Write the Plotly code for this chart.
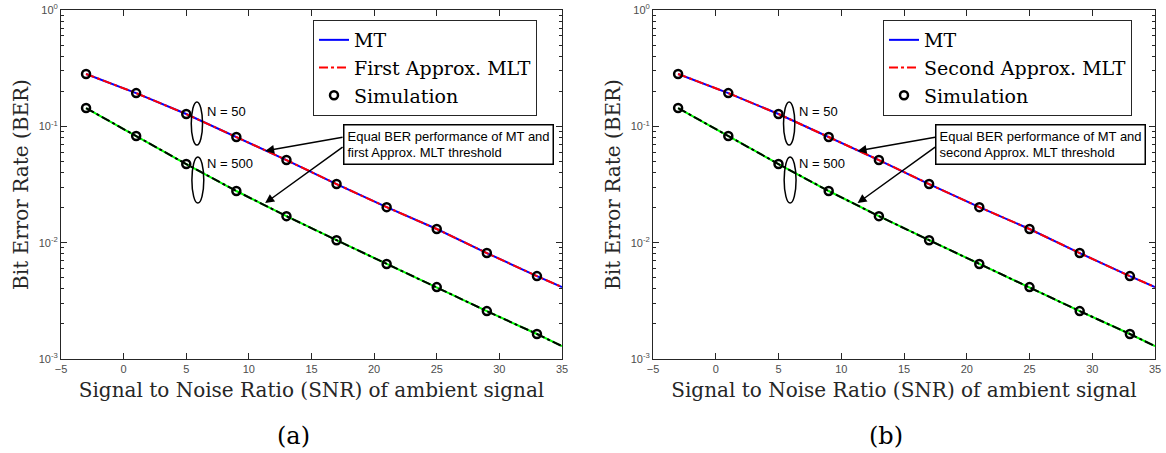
import plotly.graph_objects as go

# ---------------- data ----------------
snr = [-3, 1, 5, 9, 13, 17, 21, 25, 29, 33]
snr_line = [-3, 1, 5, 9, 13, 17, 21, 25, 29, 33, 35]
ber_n50_line = [0.282, 0.193, 0.1276, 0.0809, 0.0513, 0.0319, 0.0202, 0.0131, 0.00814, 0.00516, 0.00415]
ber_n500_line = [0.1436, 0.0826, 0.0474, 0.0278, 0.0169, 0.0105, 0.00655, 0.00415, 0.00258, 0.00164, 0.00129]
sim_n50 = [0.282, 0.193, 0.1276, 0.0809, 0.0513, 0.0319, 0.0202, 0.0131, 0.00814, 0.00516]
sim_n500 = [0.1436, 0.0826, 0.0474, 0.0278, 0.0169, 0.0105, 0.00655, 0.00415, 0.00258, 0.00164]

approx_names = ["First Approx. MLT", "Second Approx. MLT"]
box_texts = ["Equal BER performance of MT and<br>first Approx. MLT threshold",
             "Equal BER performance of MT and<br>second Approx. MLT threshold"]
panel_labels = ["(a)", "(b)"]
ytickvals = [1e-3, 1e-2, 1e-1, 1]
yticktext = ["10<sup>-3</sup>", "10<sup>-2</sup>", "10<sup>-1</sup>", "10<sup>0</sup>"]
minor_vals = [m * 10 ** e for e in (-3, -2, -1) for m in range(2, 10)]

W, H = 1166, 453
domains_x = [[61 / W, 562 / W], [653 / W, 1155 / W]]
domain_y = [1 - 359 / H, 1 - 10 / H]
legend_x = [313 / W, 883 / W]

SERIF = "DejaVu Serif"
SANS = "Liberation Sans"
AX = "#262626"

fig = go.Figure()
for i in range(2):
    xa = "x" if i == 0 else "x2"
    ya = "y" if i == 0 else "y2"
    lg = "legend" if i == 0 else "legend2"
    fig.add_trace(go.Scatter(x=snr_line, y=ber_n500_line, mode="lines", line=dict(color="#00ff00", width=2),
                             xaxis=xa, yaxis=ya, showlegend=False))
    fig.add_trace(go.Scatter(x=snr_line, y=ber_n500_line, mode="lines", line=dict(color="black", width=2, dash="dashdot"),
                             xaxis=xa, yaxis=ya, showlegend=False))
    fig.add_trace(go.Scatter(x=snr_line, y=ber_n50_line, mode="lines", name="MT", line=dict(color="#0000ff", width=2),
                             xaxis=xa, yaxis=ya, legend=lg))
    fig.add_trace(go.Scatter(x=snr_line, y=ber_n50_line, mode="lines", name=approx_names[i],
                             line=dict(color="#ff0000", width=2, dash="dashdot"),
                             xaxis=xa, yaxis=ya, legend=lg))
    fig.add_trace(go.Scatter(x=snr, y=sim_n50, mode="markers", name="Simulation",
                             marker=dict(symbol="circle-open", size=8, color="black", line=dict(width=2.5)),
                             xaxis=xa, yaxis=ya, legend=lg))
    fig.add_trace(go.Scatter(x=snr, y=sim_n500, mode="markers", showlegend=False,
                             marker=dict(symbol="circle-open", size=8, color="black", line=dict(width=2.5)),
                             xaxis=xa, yaxis=ya))

    # ellipses
    fig.add_shape(type="circle", xref=xa, yref=ya, x0=5.4, x1=6.3, y0=10 ** -1.161, y1=10 ** -0.79,
                  line=dict(color="black", width=1.5))
    fig.add_shape(type="circle", xref=xa, yref=ya, x0=5.45, x1=6.4, y0=10 ** -1.66, y1=10 ** -1.264,
                  line=dict(color="black", width=1.5))
    fig.add_annotation(xref=xa, yref=ya, x=6.5, y=-0.87, text="N = 50", showarrow=False, xanchor="left",
                       font=dict(family=SANS, size=13, color="black"))
    fig.add_annotation(xref=xa, yref=ya, x=6.5, y=-1.32, text="N = 500", showarrow=False, xanchor="left",
                       font=dict(family=SANS, size=13, color="black"))
    # box
    fig.add_annotation(xref=xa, yref=ya, x=25.9, y=-1.158, text=box_texts[i], showarrow=False, align="left",
                       font=dict(family=SANS, size=13, color="black"), bgcolor="white",
                       bordercolor="black", borderwidth=1.5, borderpad=3)
    # arrows
    fig.add_annotation(xref=xa, yref=ya, axref=xa, ayref=ya, x=11.3, y=-1.212, ax=17.6, ay=-1.092,
                       text="", showarrow=True, arrowhead=2, arrowsize=1.2, arrowwidth=1.5, arrowcolor="black")
    fig.add_annotation(xref=xa, yref=ya, axref=xa, ayref=ya, x=11.3, y=-1.66, ax=17.6, ay=-1.17,
                       text="", showarrow=True, arrowhead=2, arrowsize=1.2, arrowwidth=1.5, arrowcolor="black")
    # panel label
    fig.add_annotation(xref="paper", yref="paper", x=(domains_x[i][0] + domains_x[i][1]) / 2 - 18 / W,
                       y=1 - 436 / H, xanchor="center", yanchor="middle", text=panel_labels[i], showarrow=False,
                       font=dict(family=SERIF, size=24, color="black"))

axis_common = dict(showline=True, linecolor=AX, linewidth=1, mirror="ticks", ticks="inside", ticklen=6,
                   tickcolor=AX, tickfont=dict(family=SANS, size=11, color="#4d4d4d"), showgrid=False,
                   zeroline=False, automargin=False)
for i in range(2):
    sfx = "" if i == 0 else "2"
    fig.update_layout(**{
        "xaxis" + sfx: dict(axis_common, domain=domains_x[i], range=[-5, 35], dtick=5, tick0=-5,
                            anchor="y" + sfx,
                            title=dict(text="Signal to Noise Ratio (SNR) of ambient signal", standoff=8,
                                       font=dict(family=SERIF, size=20, color=AX))),
        "yaxis" + sfx: dict(axis_common, domain=domain_y, type="log", range=[-3, 0], anchor="x" + sfx,
                            tickvals=ytickvals, ticktext=yticktext,
                            minor=dict(tickvals=minor_vals, ticks="inside", ticklen=3, tickcolor=AX),
                            title=dict(text="Bit Error Rate (BER)", standoff=4,
                                       font=dict(family=SERIF, size=20, color=AX))),
        ("legend" if i == 0 else "legend2"): dict(x=legend_x[i], y=1 - 20 / H, xanchor="left", yanchor="top",
                                                  bgcolor="white", bordercolor=AX, borderwidth=1,
                                                  font=dict(family=SERIF, size=19, color="black"),
                                                  itemwidth=30, tracegroupgap=0),
    })

fig.update_layout(width=W, height=H, margin=dict(l=0, r=0, t=0, b=0), plot_bgcolor="white",
                  paper_bgcolor="white")
fig.write_html("out.html")
